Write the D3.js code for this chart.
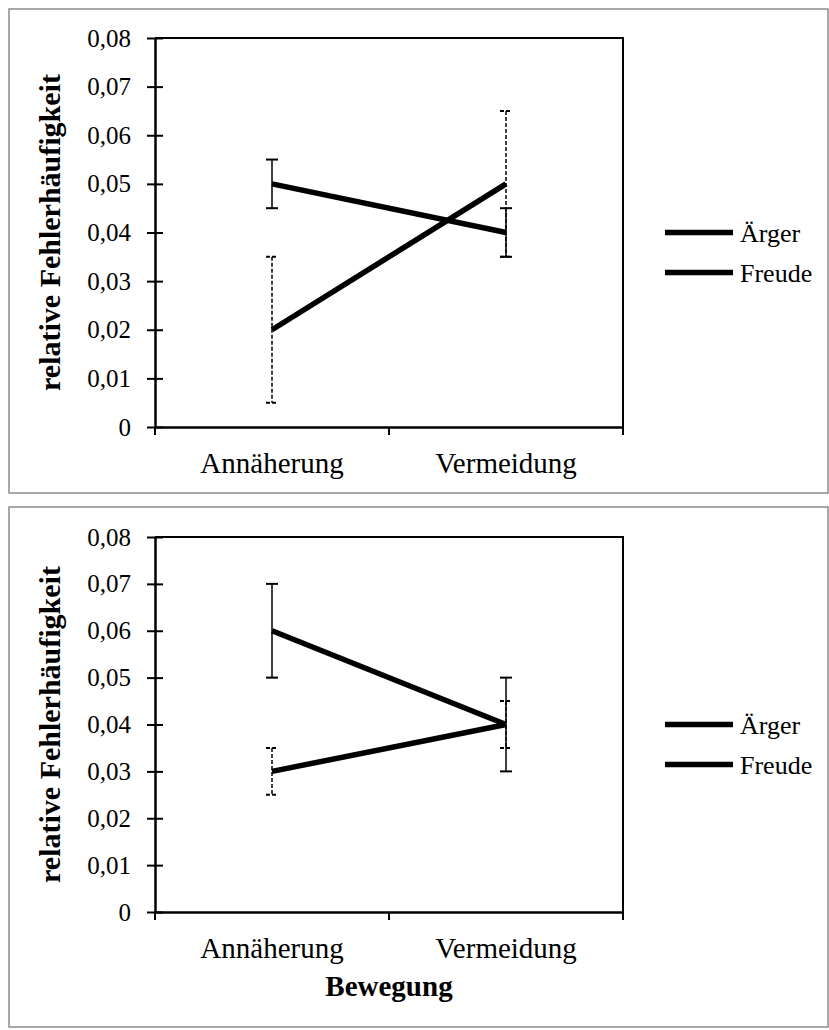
<!DOCTYPE html>
<html>
<head>
<meta charset="utf-8">
<script src="https://cdn.jsdelivr.net/npm/d3@7/dist/d3.min.js"></script>
<style>
  html, body { margin: 0; padding: 0; background: #fff; }
  svg { display: block; }
  text { font-family: "Liberation Serif", "Times New Roman", serif; fill: #000; }
</style>
</head>
<body>
<svg id="chart" width="829" height="1030"></svg>
<script>
// ---- data ----
const categories = ["Annäherung", "Vermeidung"];
const seriesNames = ["Ärger", "Freude"];
const yTickValues = [0, 0.01, 0.02, 0.03, 0.04, 0.05, 0.06, 0.07, 0.08];
const yTickLabels = ["0", "0,01", "0,02", "0,03", "0,04", "0,05", "0,06", "0,07", "0,08"];
const yTitle = "relative Fehlerhäufigkeit";
const xTitle = "Bewegung";

// panel 1
const panel1Aerger = [0.05, 0.04];
const panel1AergerErr = [0.005, 0.005];
const panel1Freude = [0.02, 0.05];
const panel1FreudeErr = [0.015, 0.015];
// panel 2
const panel2Aerger = [0.06, 0.04];
const panel2AergerErr = [0.01, 0.01];
const panel2Freude = [0.03, 0.04];
const panel2FreudeErr = [0.005, 0.005];

// ---- layout ----
const svg = d3.select("#chart");
const plotLeft = 155, plotRight = 623;

const panels = [
  { frame: { x: 9, y: 9, w: 819, h: 484 }, top: 38, bottom: 427,
    series: [
      { name: seriesNames[0], values: panel1Aerger, err: panel1AergerErr, dash: null },
      { name: seriesNames[1], values: panel1Freude, err: panel1FreudeErr, dash: "4,2" }
    ], showXTitle: false },
  { frame: { x: 9, y: 507, w: 819, h: 520 }, top: 537, bottom: 912,
    series: [
      { name: seriesNames[0], values: panel2Aerger, err: panel2AergerErr, dash: null },
      { name: seriesNames[1], values: panel2Freude, err: panel2FreudeErr, dash: "4,2" }
    ], showXTitle: true }
];

const x = d3.scaleBand().domain(categories).range([plotLeft, plotRight]).padding(0);

panels.forEach(p => {
  const g = svg.append("g");
  // outer frame
  g.append("rect")
    .attr("x", p.frame.x).attr("y", p.frame.y)
    .attr("width", p.frame.w).attr("height", p.frame.h)
    .attr("fill", "none").attr("stroke", "#8c8c8c").attr("stroke-width", 1.5);

  const y = d3.scaleLinear().domain([0, 0.08]).range([p.bottom, p.top]);

  // plot area box (top + right)
  g.append("path")
    .attr("d", `M${plotLeft},${y(0.08)}H${plotRight}V${y(0)}`)
    .attr("fill", "none").attr("stroke", "#000").attr("stroke-width", 2);

  // y axis
  const yAxis = d3.axisLeft(y)
    .tickValues(yTickValues)
    .tickFormat((d, i) => yTickLabels[i])
    .tickSizeInner(8).tickSizeOuter(0).tickPadding(16);
  const ya = g.append("g").attr("transform", `translate(${plotLeft},0)`).call(yAxis);
  ya.select(".domain").attr("stroke", "#000").attr("stroke-width", 2.5);
  ya.selectAll(".tick line").attr("x1", 8).attr("stroke", "#000").attr("stroke-width", 2);
  ya.selectAll(".tick text").attr("font-size", 25).attr("font-family", "Liberation Serif").attr("fill", "#000");

  // x axis (labels at band centres)
  const xAxis = d3.axisBottom(x).tickSize(0);
  const xa = g.append("g").attr("transform", `translate(0,${y(0)})`).call(xAxis);
  xa.select(".domain").attr("stroke", "#000").attr("stroke-width", 2.5);
  xa.selectAll(".tick text")
    .attr("y", 46).attr("dy", null)
    .attr("font-size", 29).attr("font-family", "Liberation Serif").attr("fill", "#000");
  // boundary ticks
  const bounds = [x(categories[0])].concat(categories.map(c => x(c) + x.bandwidth()));
  g.selectAll(".xb").data(bounds).enter().append("line")
    .attr("x1", d => d).attr("x2", d => d)
    .attr("y1", y(0)).attr("y2", y(0) + 8)
    .attr("stroke", "#000").attr("stroke-width", 2);

  const cx = c => x(c) + x.bandwidth() / 2;

  // series lines
  const line = d3.line().x((d, i) => cx(categories[i])).y(d => y(d));
  p.series.forEach(s => {
    g.append("path").datum(s.values)
      .attr("d", line)
      .attr("fill", "none").attr("stroke", "#000").attr("stroke-width", 5.5);
  });

  // error bars
  p.series.forEach(s => {
    const eb = g.append("g");
    s.values.forEach((v, i) => {
      const xc = cx(categories[i]);
      const lo = y(v - s.err[i]), hi = y(v + s.err[i]);
      eb.append("line").attr("x1", xc).attr("x2", xc).attr("y1", hi).attr("y2", lo)
        .attr("stroke", "#000").attr("stroke-width", 1.5)
        .attr("stroke-dasharray", s.dash);
      [hi, lo].forEach(yy => {
        eb.append("line").attr("x1", xc - 6).attr("x2", xc + 6).attr("y1", yy).attr("y2", yy)
          .attr("stroke", "#000").attr("stroke-width", 2)
          .attr("stroke-dasharray", s.dash);
      });
    });
  });

  // y title
  const yMid = (p.top + p.bottom) / 2;
  g.append("text")
    .attr("transform", `translate(60,${yMid}) rotate(-90)`)
    .attr("text-anchor", "middle")
    .attr("font-size", 30).attr("font-weight", "bold")
    .text(yTitle);

  // x title
  if (p.showXTitle) {
    g.append("text")
      .attr("x", (plotLeft + plotRight) / 2).attr("y", y(0) + 84)
      .attr("text-anchor", "middle")
      .attr("font-size", 29).attr("font-weight", "bold")
      .text(xTitle);
  }

  // legend
  const leg = g.append("g");
  p.series.forEach((s, i) => {
    const ly = yMid + i * 40;
    leg.append("line").attr("x1", 665).attr("x2", 733).attr("y1", ly).attr("y2", ly)
      .attr("stroke", "#000").attr("stroke-width", 5.5);
    leg.append("text").attr("x", 740).attr("y", ly).attr("dy", "0.35em")
      .attr("font-size", 26).text(s.name);
  });
});
</script>
</body>
</html>
